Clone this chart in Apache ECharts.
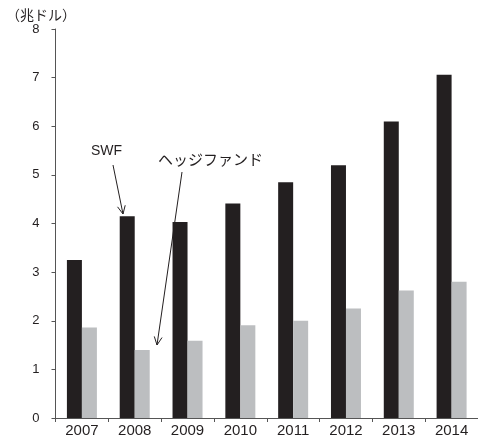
<!DOCTYPE html>
<html><head><meta charset="utf-8">
<script src="https://cdn.jsdelivr.net/npm/echarts@6/dist/echarts.min.js"></script>
<style>html,body{margin:0;padding:0;background:#fff}#c{width:478px;height:440px}</style>
</head><body><div id="c"></div>
<script>
const years = ['2007','2008','2009','2010','2011','2012','2013','2014'];
const swf = [3.25, 4.15, 4.03, 4.41, 4.85, 5.20, 6.10, 7.06];
const hedge = [1.86, 1.40, 1.59, 1.91, 2.00, 2.25, 2.62, 2.80];
const yTicks = ['0','1','2','3','4','5','6','7','8'];

const chart = echarts.init(document.getElementById('c'), null, {renderer:'canvas'});
const txt = '#231f20';
const axisCol = '#555';

function arrow(x1, y1, x2, y2) {
  const ang = Math.atan2(y2 - y1, x2 - x1);
  const L = 9, a = Math.PI / 7;
  const p1 = [x2 - L * Math.cos(ang - a), y2 - L * Math.sin(ang - a)];
  const p2 = [x2 - L * Math.cos(ang + a), y2 - L * Math.sin(ang + a)];
  return [
    {type:'line', shape:{x1:x1,y1:y1,x2:x2,y2:y2}, style:{stroke:txt, lineWidth:1}},
    {type:'polyline', shape:{points:[p1,[x2,y2],p2]}, style:{stroke:txt, lineWidth:1, fill:null}}
  ];
}

chart.setOption({
  animation:false,
  backgroundColor:'#fff',
  title:{text:'（兆ドル）', left:1, top:3, padding:[4,5,4,5],
    textStyle:{fontFamily:'Noto Sans CJK JP', fontSize:14, fontWeight:'normal', color:txt, lineHeight:16}},
  grid:{left:55.5, right:-6, top:29, bottom:22, containLabel:false},
  xAxis:{type:'category', data:years,
    axisLine:{lineStyle:{color:axisCol, width:1}},
    axisTick:{show:true, length:4, lineStyle:{color:axisCol}},
    axisLabel:{color:txt, fontFamily:'Liberation Sans', fontSize:15, margin:5}},
  yAxis:{type:'value', min:0, max:8, interval:1,
    axisLine:{show:true, lineStyle:{color:axisCol, width:1}},
    axisTick:{show:true, length:4, lineStyle:{color:axisCol}},
    splitLine:{show:false},
    axisLabel:{color:txt, fontFamily:'Liberation Sans', fontSize:13, margin:16,
      formatter:(v)=>yTicks[v]}},
  series:[
    {type:'bar', name:'SWF', data:swf, barWidth:15, barGap:'0%',
      itemStyle:{color:'#231f20'}},
    {type:'bar', name:'ヘッジファンド', data:hedge, barWidth:15, barGap:'0%',
      itemStyle:{color:'#bcbec0'}}
  ],
  graphic:[
    {type:'text', left:91, top:144, style:{text:'SWF', font:'14px "Liberation Sans"', fill:txt}},
    {type:'text', left:158, top:152, style:{text:'ヘッジファンド', font:'15px "Noto Sans CJK JP"', fill:txt}},
    ...arrow(113, 165, 123, 214),
    ...arrow(182, 172, 157, 345)
  ]
});
</script></body></html>
